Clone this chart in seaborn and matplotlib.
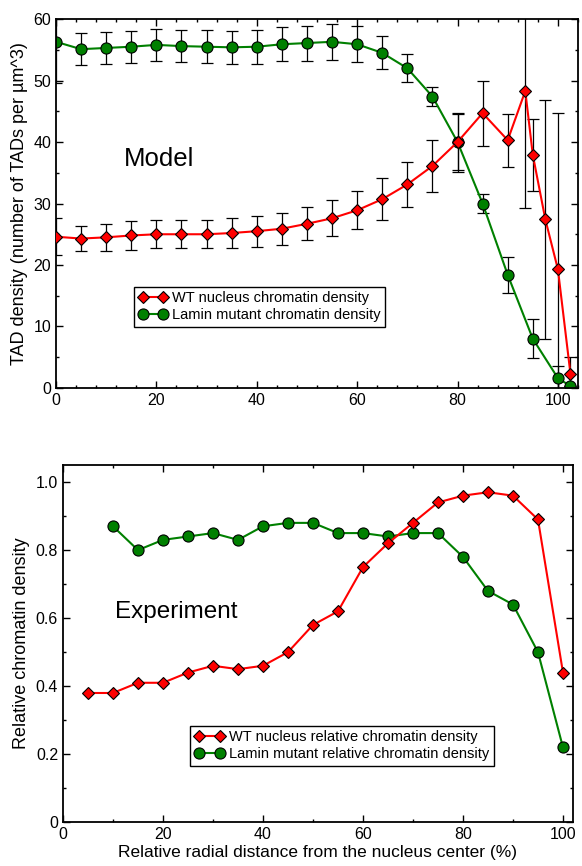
import numpy as np
import pandas as pd
import matplotlib
matplotlib.use("Agg")
import matplotlib.pyplot as plt
from matplotlib.ticker import MultipleLocator, FuncFormatter
import seaborn as sns

# ---- Model (top panel) ----
wt_x = [0, 5, 10, 15, 20, 25, 30, 35, 40, 45, 50, 55, 60, 65, 70, 75, 80, 85, 90, 93.5, 95, 97.5, 100, 102.5]
wt_y = [24.6, 24.3, 24.5, 24.8, 25.0, 25.0, 25.0, 25.2, 25.5, 25.9, 26.7, 27.6, 28.9, 30.7, 33.1, 36.1, 40.0, 44.7, 40.3, 48.3, 37.9, 27.4, 19.3, 2.3]
wt_err = [3.0, 2.1, 2.2, 2.3, 2.3, 2.3, 2.3, 2.4, 2.5, 2.6, 2.7, 2.9, 3.1, 3.4, 3.7, 4.2, 4.8, 5.3, 4.3, 19.0, 5.8, 19.5, 25.5, 2.8]

lm_x = [0, 5, 10, 15, 20, 25, 30, 35, 40, 45, 50, 55, 60, 65, 70, 75, 80, 85, 90, 95, 100, 102.5]
lm_y = [56.3, 55.1, 55.3, 55.5, 55.8, 55.6, 55.5, 55.4, 55.5, 55.9, 56.1, 56.3, 55.9, 54.5, 52.0, 47.4, 40.0, 30.0, 18.4, 8.0, 1.6, 0.3]
lm_err = [6.7, 2.6, 2.6, 2.6, 2.6, 2.6, 2.7, 2.7, 2.8, 2.8, 2.85, 2.9, 2.9, 2.7, 2.3, 1.5, 4.5, 1.5, 2.9, 3.2, 1.9, 0.0]

# ---- Experiment (bottom panel) ----
exp_wt_x = [5, 10, 15, 20, 25, 30, 35, 40, 45, 50, 55, 60, 65, 70, 75, 80, 85, 90, 95, 100]
exp_wt_y = [0.38, 0.38, 0.41, 0.41, 0.44, 0.46, 0.45, 0.46, 0.50, 0.58, 0.62, 0.75, 0.82, 0.88, 0.94, 0.96, 0.97, 0.96, 0.89, 0.44]

exp_lm_x = [10, 15, 20, 25, 30, 35, 40, 45, 50, 55, 60, 65, 70, 75, 80, 85, 90, 95, 100]
exp_lm_y = [0.87, 0.80, 0.83, 0.84, 0.85, 0.83, 0.87, 0.88, 0.88, 0.85, 0.85, 0.84, 0.85, 0.85, 0.78, 0.68, 0.64, 0.50, 0.22]

sns.set_style("ticks")
plt.rcParams['font.family'] = ['Liberation Sans', 'DejaVu Sans']
plt.rcParams['text.color'] = 'black'
plt.rcParams['axes.labelcolor'] = 'black'

fig = plt.figure(figsize=(5.82, 8.66), dpi=100)
ax1 = fig.add_axes([0.0962, 0.552, 0.8969, 0.426])
ax2 = fig.add_axes([0.1082, 0.0505, 0.8763, 0.4125])

red_kw = dict(color="red", marker="D", markersize=6.5, markeredgecolor="black",
              markeredgewidth=0.8, markerfacecolor="red", linewidth=1.5)
green_kw = dict(color="green", marker="o", markersize=8, markeredgecolor="black",
                markeredgewidth=0.8, markerfacecolor="green", linewidth=1.5)

leg_kw = dict(loc="upper left", borderaxespad=0, numpoints=2, fontsize=10.5,
              handlelength=2.0, handletextpad=0.35, fancybox=False, framealpha=1,
              edgecolor="black", borderpad=0.3, labelspacing=0.2)

# top panel
ax1.errorbar(wt_x, wt_y, yerr=wt_err, fmt="none", ecolor="black", elinewidth=0.9, capsize=4, capthick=0.9, zorder=1)
ax1.errorbar(lm_x, lm_y, yerr=lm_err, fmt="none", ecolor="black", elinewidth=0.9, capsize=4, capthick=0.9, zorder=1)
sns.lineplot(x=wt_x, y=wt_y, ax=ax1, label="WT nucleus chromatin density", zorder=3, **red_kw)
sns.lineplot(x=lm_x, y=lm_y, ax=ax1, label="Lamin mutant chromatin density", zorder=2, **green_kw)

ax1.set_xlim(0, 104)
ax1.set_ylim(0, 60)
ax1.xaxis.set_major_locator(MultipleLocator(20))
ax1.xaxis.set_minor_locator(MultipleLocator(4))
ax1.yaxis.set_major_locator(MultipleLocator(10))
ax1.yaxis.set_minor_locator(MultipleLocator(5))
ax1.set_ylabel("TAD density (number of TADs per µm^3)", fontsize=13)
ax1.set_xlabel("")
ax1.text(0.13, 0.62, "Model", transform=ax1.transAxes, fontsize=18.5, va="center", ha="left")
ax1.legend(bbox_to_anchor=(0.149, 0.274), **leg_kw)

# bottom panel
sns.lineplot(x=exp_wt_x, y=exp_wt_y, ax=ax2, label="WT nucleus relative chromatin density", zorder=3, **red_kw)
sns.lineplot(x=exp_lm_x, y=exp_lm_y, ax=ax2, label="Lamin mutant relative chromatin density", zorder=2, **green_kw)

ax2.set_xlim(0, 102)
ax2.set_ylim(0, 1.05)
ax2.xaxis.set_major_locator(MultipleLocator(20))
ax2.xaxis.set_minor_locator(MultipleLocator(10))
ax2.yaxis.set_major_locator(MultipleLocator(0.2))
ax2.yaxis.set_minor_locator(MultipleLocator(0.1))
ax2.yaxis.set_major_formatter(FuncFormatter(lambda v, p: "0" if abs(v) < 1e-9 else "%.1f" % v))
ax2.set_ylabel("Relative chromatin density", fontsize=13)
ax2.set_xlabel("Relative radial distance from the nucleus center (%)", fontsize=12.5, labelpad=2)
ax2.text(0.102, 0.59, "Experiment", transform=ax2.transAxes, fontsize=17.5, va="center", ha="left")
ax2.legend(bbox_to_anchor=(0.25, 0.2695), **leg_kw)

for ax in (ax1, ax2):
    for s in ax.spines.values():
        s.set_visible(True)
        s.set_linewidth(1.3)
        s.set_color("black")
    ax.tick_params(which="both", direction="in", top=True, right=True, labelsize=11.5,
                   colors="black", labelcolor="black")
    ax.tick_params(which="major", length=5, width=1)
    ax.tick_params(which="minor", length=2.5, width=1)
    ax.legend_.get_frame().set_linewidth(1.0)

fig.savefig("out.png", dpi=100)
